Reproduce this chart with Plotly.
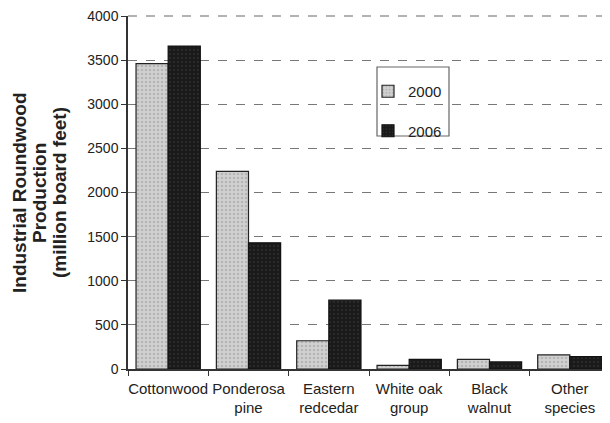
import plotly.graph_objects as go

categories = ["Cottonwood", "Ponderosa<br>pine", "Eastern<br>redcedar",
              "White oak<br>group", "Black<br>walnut", "Other<br>species"]
series_names = ["2000", "2006"]
values_2000 = [3460, 2240, 320, 40, 110, 160]
values_2006 = [3660, 1430, 780, 110, 80, 140]
y_ticks = [0, 500, 1000, 1500, 2000, 2500, 3000, 3500, 4000]
title_lines = ["Industrial Roundwood", "Production", "(million board feet)"]

# page has an 8px body margin, so the figure is 8px smaller and offset
OFF = 8
W, H = 610 - OFF, 423 - OFF
L, T, B = 128 - OFF, 16 - OFF, 54
PW, PH = W - L, H - T - B

def px(x):
    return (x - OFF - L) / PW

def py(y):
    return (H - B - (y - OFF)) / PH

fig = go.Figure()
fig.add_trace(go.Bar(x=categories, y=values_2000, name=series_names[0], legendgroup="a",
                     marker=dict(color="#c4c4c4", line=dict(color="#222", width=1.2),
                                 pattern=dict(shape=".", fgcolor="#9a9a9a", bgcolor="#d0d0d0", size=4, solidity=0.3))))
fig.add_trace(go.Bar(x=categories, y=values_2006, name=series_names[1], legendgroup="b",
                     marker=dict(color="#1c1c1c", line=dict(color="#111", width=1.2),
                                 pattern=dict(shape=".", fgcolor="#444", bgcolor="#1a1a1a", size=4, solidity=0.2))))

fig.update_layout(
    width=W, height=H,
    margin=dict(l=L, r=0, t=T, b=B, autoexpand=False),
    paper_bgcolor="white", plot_bgcolor="white",
    barmode="group", bargap=0.2, bargroupgap=0,
    font=dict(family="Liberation Sans, Arial", size=15, color="#222"),
    legend=dict(x=px(368), y=py(75), xanchor="left", yanchor="top",
                borderwidth=0, bgcolor="rgba(0,0,0,0)",
                font=dict(size=15), itemwidth=30, traceorder="grouped", tracegroupgap=17),
    showlegend=True,
)
fig.update_xaxes(showline=True, linecolor="#333", linewidth=1.5, automargin=False, tickangle=0,
                 ticks="outside", tickson="boundaries", ticklen=5, tickcolor="#333",
                 ticklabelstandoff=5, ticklabeloverflow="allow",
                 tickfont=dict(size=15), showgrid=False)
fig.update_yaxes(range=[0, 4000], tickvals=y_ticks, showline=True, linecolor="#333", linewidth=1.5,
                 automargin=False, ticklabeloverflow="allow",
                 ticks="outside", ticklen=5, tickcolor="#333",
                 showgrid=True, gridcolor="#777", griddash="dash", gridwidth=1,
                 zeroline=False, tickfont=dict(size=14))

# top dashed border at 4000
fig.add_shape(type="line", xref="paper", yref="paper", x0=0, x1=1, y0=1, y1=1,
              line=dict(color="#666", width=1.2, dash="dash"))
# legend box
fig.add_shape(type="rect", xref="paper", yref="paper",
              x0=px(377), x1=px(449), y0=py(136), y1=py(67),
              line=dict(color="#666", width=1.2), fillcolor="white", layer="between")

for i, line in enumerate(title_lines):
    fig.add_annotation(text="<b>" + line + "</b>",
                       xref="paper", yref="paper", x=px(19 + 20 * i), y=py(193),
                       textangle=-90, showarrow=False, font=dict(size=19, color="#222"),
                       xanchor="center", yanchor="middle")

fig.write_html("out.html")
